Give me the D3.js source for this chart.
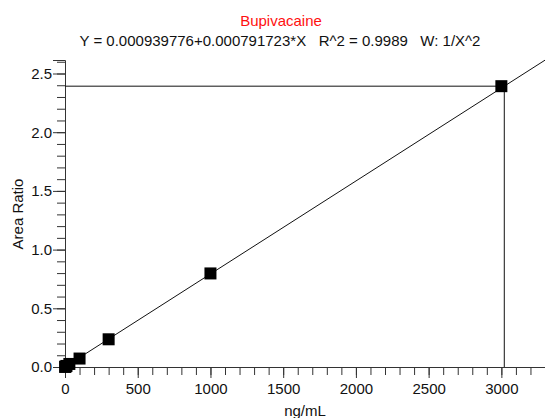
<!DOCTYPE html>
<html>
<head>
<meta charset="utf-8">
<script src="https://cdn.jsdelivr.net/npm/d3@7"></script>
<style>
  body { margin: 0; background: #fff; }
  svg text { font-family: "Liberation Sans", Arial, sans-serif; fill: #111; }
</style>
</head>
<body>
<svg id="chart" width="545" height="418"></svg>
<script>
// calibration standards
var concentrations = [1, 3, 10, 30, 100, 300, 1000, 3000];
var area_ratios = [0.001, 0.003, 0.009, 0.026, 0.072, 0.236, 0.797, 2.392];

var intercept = 0.000939776;
var slope = 0.000791723;

var title_text = "Bupivacaine";
var equation_text = "Y = 0.000939776+0.000791723*X   R^2 = 0.9989   W: 1/X^2";
var x_label = "ng/mL";
var y_label = "Area Ratio";

var x_major = [0, 500, 1000, 1500, 2000, 2500, 3000];
var y_major = [0.0, 0.5, 1.0, 1.5, 2.0, 2.5];

var svg = d3.select("#chart");

var x = d3.scaleLinear().domain([0, 3300]).range([65, 545]);
var y = d3.scaleLinear().domain([0, 2.615]).range([367, 60]);

// minor ticks
svg.append("g")
    .attr("transform", "translate(0," + y(0) + ")")
    .call(d3.axisBottom(x).tickValues(d3.range(0, 3301, 100)).tickSize(8).tickFormat(""))
    .call(g => g.select(".domain").remove());
svg.append("g")
    .attr("transform", "translate(" + x(0) + ",0)")
    .call(d3.axisLeft(y).tickValues(d3.range(0, 27).map(i => i / 10)).tickSize(8).tickFormat(""))
    .call(g => g.select(".domain").remove());

// major ticks + labels
var xAxis = svg.append("g")
    .attr("transform", "translate(0," + y(0) + ")")
    .call(d3.axisBottom(x).tickValues(x_major).tickSize(11).tickPadding(5).tickFormat(d3.format("d")));
var yAxis = svg.append("g")
    .attr("transform", "translate(" + x(0) + ",0)")
    .call(d3.axisLeft(y).tickValues(y_major).tickSize(12).tickPadding(1).tickFormat(d3.format(".1f")));

svg.selectAll(".tick line").attr("stroke", "#333");
svg.selectAll(".domain").attr("stroke", "#333");
svg.selectAll(".tick text")
    .style("font-size", "15px")
    .attr("fill", "#111");

// regression line
var line = d3.line().x(d => x(d)).y(d => y(intercept + slope * d));
svg.append("path")
    .datum([0, 3300])
    .attr("d", line)
    .attr("fill", "none")
    .attr("stroke", "#111")
    .attr("stroke-width", 1);

// crosshair at top standard
var top_ratio = area_ratios[area_ratios.length - 1];
var back_calc = (top_ratio - intercept) / slope;
svg.append("line")
    .attr("x1", x(0)).attr("x2", x(back_calc))
    .attr("y1", y(top_ratio)).attr("y2", y(top_ratio))
    .attr("stroke", "#111");
svg.append("line")
    .attr("x1", x(back_calc)).attr("x2", x(back_calc))
    .attr("y1", y(top_ratio)).attr("y2", y(0))
    .attr("stroke", "#111");

// points
var pts = concentrations.map((c, i) => ({conc: c, ratio: area_ratios[i]}));
svg.selectAll("rect.pt")
    .data(pts)
    .enter()
    .append("rect")
    .attr("class", "pt")
    .attr("x", d => x(d.conc) - 6)
    .attr("y", d => y(d.ratio) - 6)
    .attr("width", 12)
    .attr("height", 12)
    .attr("fill", "#000");

// titles
svg.append("text")
    .attr("x", 281).attr("y", 26)
    .attr("text-anchor", "middle")
    .style("font-size", "15px")
    .style("fill", "#ff1010")
    .text(title_text);
svg.append("text")
    .attr("x", 280).attr("y", 46)
    .attr("text-anchor", "middle")
    .style("font-size", "15px")
    .attr("xml:space", "preserve")
    .text(equation_text);

svg.append("text")
    .attr("x", 305).attr("y", 416)
    .attr("text-anchor", "middle")
    .style("font-size", "15px")
    .text(x_label);
svg.append("text")
    .attr("transform", "translate(23,214) rotate(-90)")
    .attr("text-anchor", "middle")
    .style("font-size", "15px")
    .text(y_label);
</script>
</body>
</html>
